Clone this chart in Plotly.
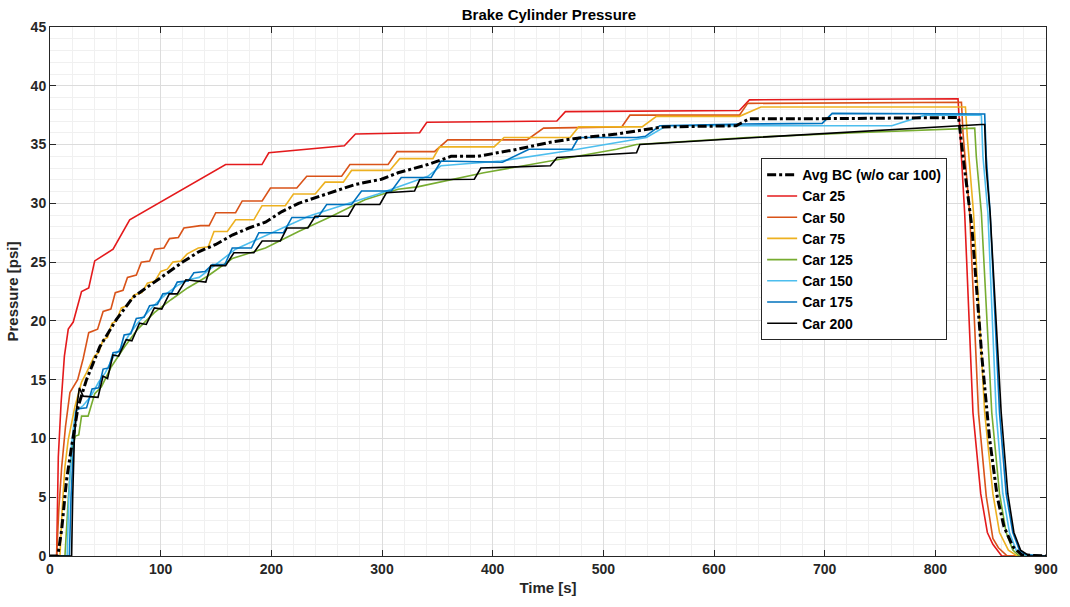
import plotly.graph_objects as go

# ---------------- data ----------------
t_avg = [0, 7, 10.5, 15, 19.5, 25.4, 33, 45, 59.9, 74.9, 89.9, 104.8, 119.8, 134.8, 149.8, 164.7, 179.7,
         194.7, 209.6, 224.6, 254.5, 275.6, 299.5, 314.5, 341.4, 362.4, 386.3, 422.3, 452.2, 473.2, 512,
         539, 554, 620, 632, 697.8, 821, 825, 833, 842, 849, 856, 862, 870, 878, 900]
p_avg = [0, 0, 2.2, 6.5, 9.3, 12.7, 15.0, 17.8, 20.1, 22.0, 23.0, 24.0, 25.0, 25.9, 26.5, 27.3, 27.9,
         28.4, 29.3, 30.0, 30.9, 31.6, 32.05, 32.6, 33.3, 34.0, 34.0, 34.6, 35.2, 35.5, 35.9,
         36.3, 36.5, 36.6, 37.2, 37.2, 37.3, 34.0, 28.0, 17.0, 10.0, 5.0, 2.5, 0.8, 0.1, 0]

t_car25 = [0, 6, 7.5, 10, 13, 16.5, 21, 28.5, 35, 40.4, 57, 72, 158.7, 191.5, 197.7, 266, 276, 334, 340.5,
           458, 465.7, 623, 632, 820.5, 822, 826.5, 834, 841, 847, 852, 860, 900]
p_car25 = [0, 0, 8.4, 13, 17, 19.3, 19.9, 22.5, 22.8, 25.1, 26.1, 28.6, 33.3, 33.3, 34.3, 34.9, 35.9, 36.0, 36.9,
           37.0, 37.8, 37.9, 38.8, 38.9, 36.5, 29.2, 12.2, 5.3, 2.0, 1.0, 0, 0]

t_car50 = [0, 6, 8, 10.5, 14, 18, 25, 30, 35, 43, 48, 55, 59, 66, 70, 78, 82.5, 90, 94.5, 103, 108, 116,
           121, 131, 136, 143.8, 149.8, 167.7, 173.7, 191.7, 199.2, 223, 232, 263.5, 271, 305.5, 313.6,
           347.4, 359.4, 431, 446, 516.6, 524, 623, 630.4, 823.6, 825, 831, 839, 846, 852, 857, 865, 900]
p_car50 = [0, 0, 4, 7.5, 11, 13.9, 15, 16.8, 19.0, 19.3, 20.8, 21.0, 22.4, 22.6, 23.7, 23.9, 25.0, 25.1,
           26.1, 26.2, 27.0, 27.1, 27.9, 28.0, 28.1, 28.1, 29.2, 29.2, 30.2, 30.2, 31.3, 31.3, 32.3, 32.3,
           33.3, 33.3, 34.4, 34.4, 35.4, 35.4, 36.4, 36.5, 37.5, 37.5, 38.5, 38.6, 36.0, 29.2, 12.2, 5.1,
           1.5, 0.7, 0, 0]

t_car75 = [0, 9, 11, 13.5, 16.5, 22.5, 28.5, 33, 40, 44, 48, 52, 56, 60, 64.5, 70, 76, 83, 88, 95, 100,
           106, 111, 118, 124, 134, 143, 148.2, 160.2, 167.7, 184.2, 191.6, 212.6, 220, 239.6, 248.6,
           265, 272.5, 307, 316, 346, 352, 401.3, 410.3, 470, 477.7, 535, 548, 623, 642.4, 827.2,
           829, 834.5, 844.6, 852, 858, 866, 874, 900]
p_car75 = [0, 0, 4, 7.6, 9.9, 12.7, 14.8, 15.6, 17.0, 17.3, 18.4, 18.6, 19.8, 20.0, 21.1, 21.3, 22.2, 22.4,
           23.2, 23.4, 24.2, 24.4, 25.0, 25.1, 25.7, 26.2, 26.3, 27.6, 27.6, 28.6, 28.6, 29.8, 29.8, 30.8,
           30.8, 31.8, 31.8, 32.8, 32.8, 33.8, 33.8, 34.8, 34.8, 35.6, 35.6, 36.5, 36.5, 37.4, 37.4, 38.2,
           38.2, 35.5, 29.2, 12.2, 5.3, 2.0, 0.5, 0, 0]

t_car125 = [0, 13.5, 16.5, 19.5, 23, 26, 28.5, 34.4, 40.4, 46.5, 55.4, 67.4, 79.3, 94.3, 109.3, 124.3,
            142.3, 164.7, 194.7, 224.6, 254.5, 284.5, 314.5, 332, 392, 452, 512, 530, 630, 728, 835.6,
            837, 841.6, 851, 858, 864, 870, 876, 900]
p_car125 = [0, 0, 4.8, 9.0, 10.2, 10.3, 11.9, 11.9, 13.8, 14.4, 16.1, 17.8, 19.3, 20.7, 21.8, 22.8,
            23.8, 25.3, 26.2, 27.6, 28.9, 30.3, 31.2, 31.4, 32.6, 33.6, 34.6, 35.0, 35.6, 36.0, 36.4,
            34.0, 29.2, 12.2, 5.3, 2.0, 0.5, 0, 0]

t_car150 = [0, 15.5, 17, 19.5, 23, 30, 37, 44, 50, 57, 65, 72, 80, 88, 96, 105, 115, 125, 134.8, 167.7,
            200.6, 233.6, 266.6, 296.5, 326.4, 341.4, 353.4, 407.3, 470, 539, 557, 638, 760.7, 790.6,
            841.6, 843, 847.5, 855, 861, 867, 873, 880, 900]
p_car150 = [0, 0, 5, 9.5, 12.3, 12.8, 13.6, 14.8, 15.6, 16.9, 17.8, 18.9, 19.9, 20.7, 21.5, 22.3, 23.0,
            23.5, 23.7, 26.1, 27.5, 28.9, 29.9, 30.8, 31.8, 32.3, 33.2, 33.6, 34.5, 35.6, 36.6, 36.6, 36.6,
            37.5, 37.5, 34.0, 29.2, 12.2, 5.3, 2.0, 0.5, 0.1, 0]

t_car175 = [0, 17.5, 19, 21, 24, 33, 38, 44, 48, 53, 57, 63, 67, 73, 78, 85, 90, 97, 102, 110, 115, 125,
            130, 140, 146.7, 158, 164.7, 182, 188.7, 211, 218.6, 242, 250, 272.5, 281.5, 308.5, 317.4,
            344.4, 353.4, 408.8, 432.8, 471.7, 477.7, 530, 538, 551, 626, 697.8, 706.8, 844.6, 846,
            849.5, 858, 864, 870, 876, 882, 900]
p_car175 = [0, 0, 5, 9, 12.5, 12.6, 14.2, 14.3, 15.9, 16.0, 17.3, 17.4, 18.8, 18.9, 20.2, 20.3, 21.3, 21.4,
            22.3, 22.4, 23.3, 23.4, 24.1, 24.2, 24.8, 24.8, 26.2, 26.2, 27.5, 27.5, 28.8, 28.8, 29.9, 29.9,
            31.05, 31.05, 32.2, 32.2, 33.6, 33.5, 34.6, 34.6, 35.6, 35.6, 35.7, 36.6, 36.75, 36.8, 37.65,
            37.6, 34.0, 29.2, 12.2, 5.3, 2.0, 0.5, 0.1, 0]

t_car200 = [0, 19.5, 20.5, 22, 24, 26.5, 30, 43.4, 47.9, 52, 56.9, 62, 68.9, 74, 80.9, 87, 94.3, 101,
            107.8, 115, 122.8, 140.8, 145.3, 158.7, 166.2, 184.2, 191.7, 208.2, 214.1, 233, 239.6, 269.5,
            275.6, 298, 304, 329.4, 334, 383.4, 389.3, 452.2, 458.2, 530, 533, 638, 841.6, 844.6, 846,
            849.5, 859.5, 865.5, 871, 877, 885, 900]
p_car200 = [0, 0, 5, 10, 12.5, 14.3, 13.6, 13.5, 15.3, 15.1, 17.1, 17.0, 18.4, 18.3, 19.8, 19.7, 21.1, 21.0,
            22.3, 22.3, 23.5, 23.3, 24.7, 24.7, 25.8, 25.8, 26.8, 26.8, 27.9, 27.9, 28.9, 28.9, 29.9, 29.9,
            30.9, 31.05, 32.0, 32.05, 33.0, 33.2, 33.9, 34.3, 35.0, 35.6, 36.7, 36.7, 33.0, 29.2, 12.2, 5.3,
            2.0, 0.5, 0, 0]

x_ticks = [0, 100, 200, 300, 400, 500, 600, 700, 800, 900]
y_ticks = [0, 5, 10, 15, 20, 25, 30, 35, 40, 45]

# ---------------- figure ----------------
FONT = "Liberation Sans, Arial, Helvetica, sans-serif"
fig = go.Figure()

cars = [
    ("Car 25", t_car25, p_car25, "#e41a1c"),
    ("Car 50", t_car50, p_car50, "#D95319"),
    ("Car 75", t_car75, p_car75, "#EDB120"),
    ("Car 125", t_car125, p_car125, "#77AC30"),
    ("Car 150", t_car150, p_car150, "#4DBEEE"),
    ("Car 175", t_car175, p_car175, "#0072BD"),
    ("Car 200", t_car200, p_car200, "#000000"),
]
for i, (name, t, p, c) in enumerate(cars):
    fig.add_trace(go.Scatter(x=t, y=p, mode="lines", name=name,
                             line=dict(color=c, width=1.6), legendrank=10 + i))

fig.add_trace(go.Scatter(x=t_avg, y=p_avg, mode="lines", name="Avg BC (w/o car 100)",
                         line=dict(color="black", width=3, dash="dashdot"), legendrank=1))

axis_common = dict(
    showline=True, linecolor="#262626", linewidth=1, mirror="ticks",
    ticks="inside", ticklen=6, tickcolor="#262626",
    showgrid=True, gridcolor="#dcdcdc", gridwidth=1,
    zeroline=False,
    tickfont=dict(family=FONT, size=14, color="#262626", weight="bold"),
)

fig.update_xaxes(range=[0, 900], tickvals=x_ticks,
                 title=dict(text="Time [s]", font=dict(family=FONT, size=15, color="#262626", weight="bold"),
                            standoff=6),
                 minor=dict(dtick=20, showgrid=True, gridcolor="#f0f0f0", ticks=""),
                 **axis_common)
fig.update_yaxes(range=[0, 45], tickvals=y_ticks,
                 title=dict(text="Pressure [psi]", font=dict(family=FONT, size=15, color="#262626", weight="bold"),
                            standoff=8),
                 minor=dict(dtick=1, showgrid=True, gridcolor="#f0f0f0", ticks=""),
                 **axis_common)

fig.update_layout(
    width=1070, height=607,
    margin=dict(l=50, r=18, t=27, b=51),
    paper_bgcolor="white", plot_bgcolor="white",
    title=dict(text="Brake Cylinder Pressure", x=0.513, xanchor="center", y=0.985, yanchor="top",
               font=dict(family=FONT, size=15, color="black", weight="bold")),
    legend=dict(x=0.714, y=0.752, xanchor="left", yanchor="top",
                bgcolor="white", bordercolor="#262626", borderwidth=1,
                font=dict(family=FONT, size=14, color="black", weight="bold"),
                tracegroupgap=0, itemwidth=30),
    showlegend=True,
)

fig.write_html("out.html")
